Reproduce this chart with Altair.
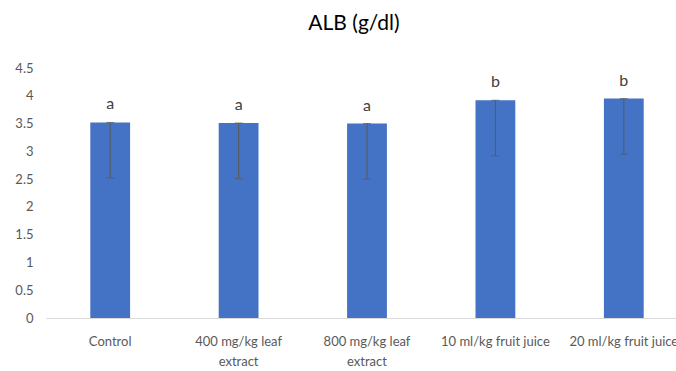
import altair as alt
import pandas as pd

categories = ["Control", "400 mg/kg leaf extract", "800 mg/kg leaf extract",
              "10 ml/kg fruit juice", "20 ml/kg fruit juice"]
values = [3.52, 3.51, 3.50, 3.92, 3.95]
errors = [1.0, 1.0, 1.0, 1.0, 1.0]
letters = ["a", "a", "a", "b", "b"]
y_ticks = [0, 0.5, 1, 1.5, 2, 2.5, 3, 3.5, 4, 4.5]

df = pd.DataFrame({"cat": categories, "val": values, "err": errors, "letter": letters})
df["low"] = df["val"] - df["err"]

FONT = "Lato"
GRAY = "#595959"

x = alt.X("cat:N", sort=categories, title=None,
          scale=alt.Scale(range=[0, 642], paddingInner=0.69, paddingOuter=0.345),
          axis=alt.Axis(labelAngle=0, labelFont=FONT, labelFontSize=13, labelColor=GRAY,
                        ticks=False, domainColor="#d9d9d9", labelPadding=17,
                        labelLimit=300, labelLineHeight=20,
                        labelExpr="split(replace(datum.value, ' extract', '|extract'), '|')"))
yaxis = alt.Axis(values=y_ticks, format="~g", grid=False, domain=False, labelOverlap=False,
                 ticks=False, labelFont=FONT, labelFontSize=13, labelColor=GRAY,
                 labelPadding=13)
yscale = alt.Scale(domain=[0, 4.5], nice=False)
y = alt.Y("val:Q", title=None, scale=yscale, axis=yaxis)
ylow = alt.Y("low:Q", title=None, scale=yscale, axis=yaxis)

base = alt.Chart(df)
bars = base.mark_bar(color="#4472C4").encode(x=x, y=y)
err = base.mark_rule(color=GRAY, strokeWidth=1).encode(x=x, y=y, y2="low:Q")
cap_top = base.mark_tick(color=GRAY, size=8, thickness=1).encode(x=x, y=y)
cap_low = base.mark_tick(color=GRAY, size=8, thickness=1).encode(x=x, y=ylow)
txt = base.mark_text(font=FONT, fontSize=16, color="#404040", baseline="alphabetic",
                     dy=-13).encode(x=x, y=y, text="letter:N")

chart = alt.layer(bars, err, cap_top, cap_low, txt).properties(
    width=630, height=250,
    title=alt.TitleParams("ALB (g/dl)", font=FONT, fontSize=21, fontWeight="normal",
                          color="#000000", anchor="middle", dx=-7, offset=28),
    autosize=alt.AutoSizeParams(type="none"),
    padding={"left": 46, "top": 68, "right": 0, "bottom": 53},
).configure(background="white").configure_view(stroke=None)

chart.save("out.html", embed_options={"renderer": "svg", "actions": False})
